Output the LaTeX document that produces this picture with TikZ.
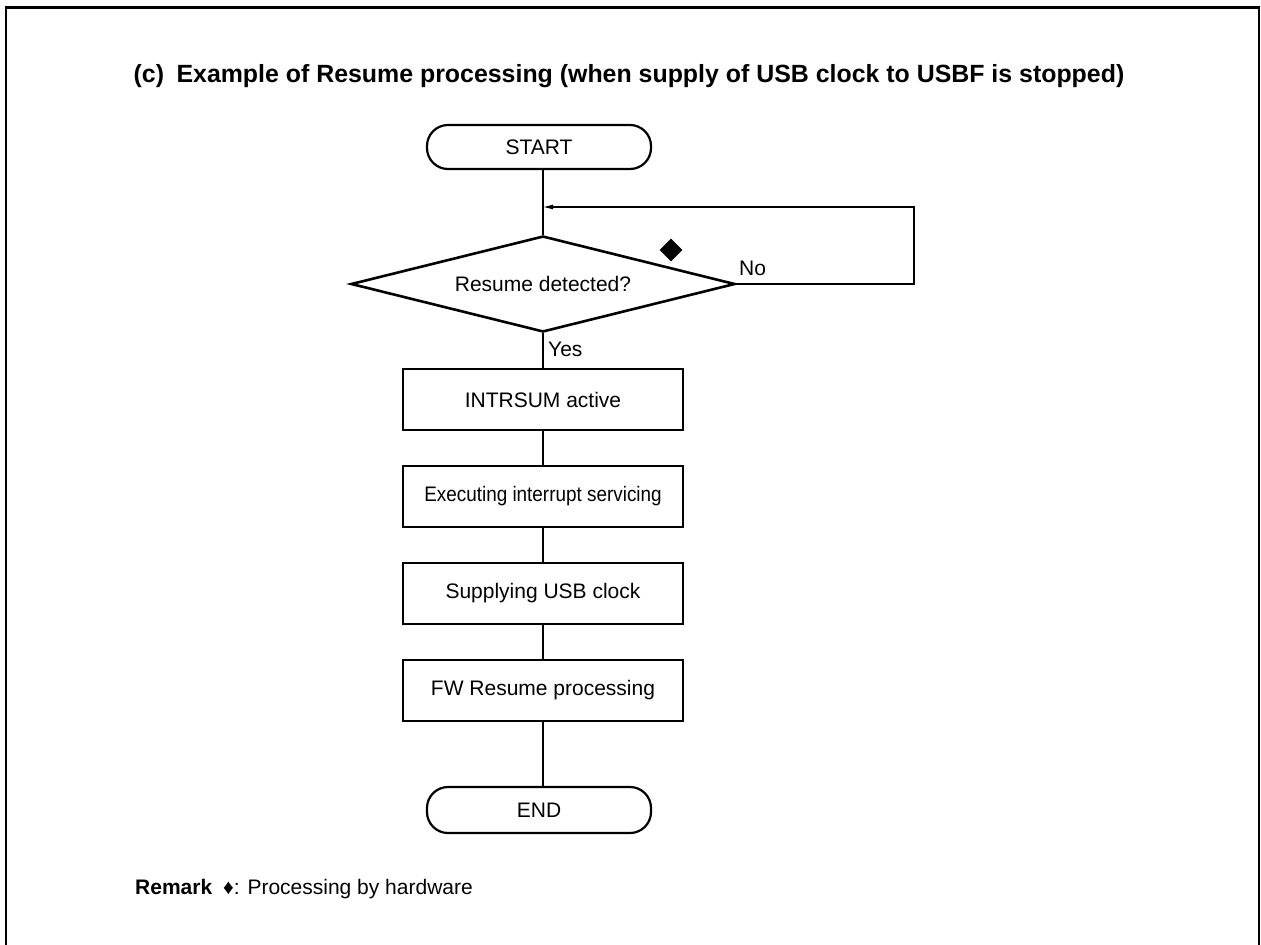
\documentclass[tikz,border=0pt]{standalone}
\usepackage{fontspec}
\setmainfont{Liberation Sans}
\usetikzlibrary{shapes.geometric,arrows.meta}
\begin{document}
\begin{tikzpicture}[x=1pt,y=-1pt,
  txt/.style={font=\fontsize{21}{25}\selectfont},
  proc/.style={draw,line width=2.6pt,minimum width=280pt,minimum height=61pt,inner sep=0pt,txt},
  term/.style={draw,line width=2.2pt,rounded corners=21pt,minimum width=224pt,minimum height=44pt,inner sep=0pt,txt},
  dec/.style={draw,diamond,aspect=4,line width=2.6pt,minimum width=384pt,minimum height=96pt,inner sep=0pt,txt},
  conn/.style={line width=1.1pt},
  lbl/.style={txt,inner sep=0pt}]
\useasboundingbox (0,0) rectangle (1261,945);
\draw[line width=2.6pt] (6,950) -- (6,7.5) -- (1259,7.5) -- (1259,950);
\node[font=\bfseries\fontsize{24.9}{30}\selectfont] (title) at (629,76) {(c)\hspace{0.5em}Example of Resume processing (when supply of USB clock to USBF is stopped)};
\node[term] (start) at (539,147) {START};
\node[dec] (dec) at (543,284) {Resume detected?};
\node[proc] (b1) at (543,399.5) {INTRSUM active};
\node[proc] (b2) at (543,496.5) {\scalebox{0.9}[1]{Executing interrupt servicing}};
\node[proc] (b3) at (543,593.5) {Supplying USB clock};
\node[proc] (b4) at (543,690.5) {FW Resume processing};
\node[term,minimum height=46pt] (end) at (539,810) {END};
\node[diamond,fill=black,minimum size=23pt,inner sep=0pt] (hw) at (671,250) {};
\node[lbl,anchor=west] (no) at (739,268) {No};
\node[lbl,anchor=west] (yes) at (548,349) {Yes};
\node[lbl,anchor=base west,font=\bfseries\fontsize{21}{25}\selectfont] (rem) at (135,894) {Remark};
\node[lbl,anchor=base west] (remtext) at (223,894) {♦: Processing by hardware};
\coordinate (fb) at (914,207);
\draw[conn] (start.south -| dec.north) -- (dec.north);
\draw[conn,-{Latex[length=10pt,width=5pt]}] (dec.east) -| (fb) -- (fb -| dec.north);
\draw[conn] (dec.south) -- (b1.north);
\draw[conn] (b1.south) -- (b2.north);
\draw[conn] (b2.south) -- (b3.north);
\draw[conn] (b3.south) -- (b4.north);
\draw[conn] (b4.south) -- (b4.south |- end.north);
\end{tikzpicture}
\end{document}
